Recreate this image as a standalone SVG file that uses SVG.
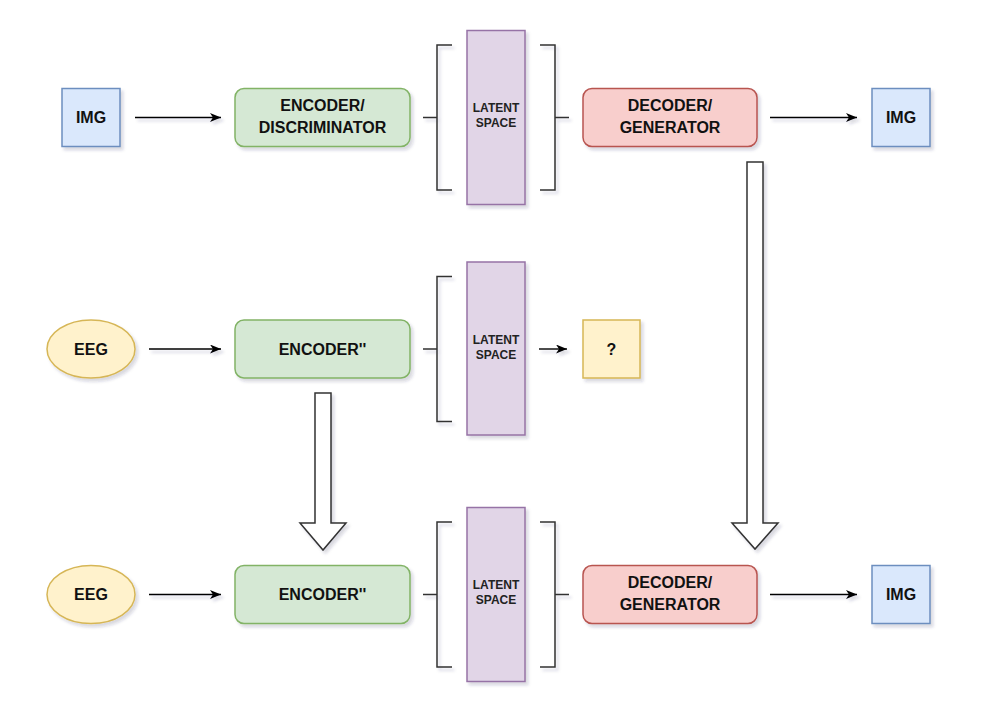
<svg xmlns="http://www.w3.org/2000/svg" width="992" height="701" viewBox="0 0 992 701">
  <defs>
    <filter id="sh" x="-20%" y="-20%" width="150%" height="150%">
      <feDropShadow dx="2.5" dy="3" stdDeviation="1.6" flood-color="#2a2a50" flood-opacity="0.18"/>
    </filter>
    <filter id="shu" filterUnits="userSpaceOnUse" x="0" y="0" width="992" height="701">
      <feDropShadow dx="2.5" dy="3" stdDeviation="1.6" flood-color="#2a2a50" flood-opacity="0.18"/>
    </filter>
    <marker id="ah" markerUnits="userSpaceOnUse" markerWidth="12" markerHeight="10" refX="11" refY="4.5" orient="auto">
      <path d="M0,0 L11,4.5 L0,9 L3,4.5 Z" fill="#000"/>
    </marker>
  </defs>
  <style>
    .lbl { font-family: "Liberation Sans", Arial, Helvetica, sans-serif; font-weight: bold; font-size: 16px; fill: #111; text-anchor: middle; }
    .sm { font-family: "Liberation Sans", Arial, Helvetica, sans-serif; font-weight: bold; font-size: 12px; fill: #222; text-anchor: middle; }
    .blue { fill: #dae8fc; stroke: #6c8ebf; stroke-width: 1.5; filter: url(#sh); }
    .green { fill: #d5e8d4; stroke: #82b366; stroke-width: 1.5; filter: url(#sh); }
    .red { fill: #f8cecc; stroke: #b85450; stroke-width: 1.5; filter: url(#sh); }
    .purple { fill: #e1d5e7; stroke: #9673a6; stroke-width: 1.5; filter: url(#sh); }
    .yellow { fill: #fff2cc; stroke: #d6b656; stroke-width: 1.5; filter: url(#sh); }
    .br { fill: none; stroke: #333; stroke-width: 1.5; filter: url(#shu); }
    .arr { fill: none; stroke: #000; stroke-width: 1.4; marker-end: url(#ah); filter: url(#shu); }
    .big { fill: #fff; stroke: #333; stroke-width: 1.5; filter: url(#sh); }
  </style>
  <rect width="992" height="701" fill="#fff"/>

  <!-- Top row -->
  <g id="img-in-top">
    <rect class="blue" x="62" y="88.5" width="58" height="58"/>
    <text class="lbl" x="91" y="123">IMG</text>
  </g>
  <g id="encoder-disc">
    <rect class="green" x="235" y="88.5" width="175" height="58" rx="9"/>
    <text class="lbl" x="322.5" y="111">ENCODER/</text>
    <text class="lbl" x="322.5" y="132.5">DISCRIMINATOR</text>
  </g>
  <g id="latent-top">
    <rect class="purple" x="467" y="30.5" width="58" height="174"/>
    <text class="sm" x="496" y="112">LATENT</text>
    <text class="sm" x="496" y="127">SPACE</text>
  </g>
  <g id="decoder-top">
    <rect class="red" x="583" y="88.5" width="174" height="58" rx="9"/>
    <text class="lbl" x="670" y="111">DECODER/</text>
    <text class="lbl" x="670" y="132.5">GENERATOR</text>
  </g>
  <g id="img-out-top">
    <rect class="blue" x="872" y="88.5" width="58" height="58"/>
    <text class="lbl" x="901" y="123">IMG</text>
  </g>

  <!-- Middle row -->
  <g id="eeg-mid">
    <ellipse class="yellow" cx="91" cy="349" rx="44" ry="29"/>
    <text class="lbl" x="91" y="354.5">EEG</text>
  </g>
  <g id="encoder-mid">
    <rect class="green" x="235" y="320" width="175" height="58" rx="9"/>
    <text class="lbl" x="322.5" y="354.5">ENCODER''</text>
  </g>
  <g id="latent-mid">
    <rect class="purple" x="467" y="262" width="58" height="173"/>
    <text class="sm" x="496" y="343.5">LATENT</text>
    <text class="sm" x="496" y="358.5">SPACE</text>
  </g>
  <g id="unknown">
    <rect class="yellow" x="583" y="320" width="57" height="58"/>
    <text class="lbl" x="611.5" y="354.5">?</text>
  </g>

  <!-- Bottom row -->
  <g id="eeg-bot">
    <ellipse class="yellow" cx="91" cy="594.5" rx="44" ry="29"/>
    <text class="lbl" x="91" y="600">EEG</text>
  </g>
  <g id="encoder-bot">
    <rect class="green" x="235" y="565.5" width="175" height="58" rx="9"/>
    <text class="lbl" x="322.5" y="600">ENCODER''</text>
  </g>
  <g id="latent-bot">
    <rect class="purple" x="467" y="507.5" width="58" height="174"/>
    <text class="sm" x="496" y="589">LATENT</text>
    <text class="sm" x="496" y="604">SPACE</text>
  </g>
  <g id="decoder-bot">
    <rect class="red" x="583" y="565.5" width="174" height="58" rx="9"/>
    <text class="lbl" x="670" y="588">DECODER/</text>
    <text class="lbl" x="670" y="609.5">GENERATOR</text>
  </g>
  <g id="img-out-bot">
    <rect class="blue" x="872" y="565.5" width="58" height="58"/>
    <text class="lbl" x="901" y="600">IMG</text>
  </g>

  <!-- Connectors -->
  <g id="connectors">
    <!-- top row -->
    <line class="arr" x1="135" y1="117.5" x2="221" y2="117.5"/>
    <path class="br" d="M423,117.5 H437 M452,45 H437 V190 H452"/>
    <path class="br" d="M540,45 H555 V190 H540 M555,117.5 H569"/>
    <line class="arr" x1="770" y1="117.5" x2="857" y2="117.5"/>
    <!-- middle row -->
    <line class="arr" x1="149" y1="349" x2="221" y2="349"/>
    <path class="br" d="M423,349 H437 M452,276.5 H437 V421.5 H452"/>
    <line class="arr" x1="539" y1="349" x2="567" y2="349"/>
    <!-- bottom row -->
    <line class="arr" x1="149" y1="594.5" x2="221" y2="594.5"/>
    <path class="br" d="M423,594.5 H437 M452,522 H437 V667 H452"/>
    <path class="br" d="M540,522 H555 V667 H540 M555,594.5 H569"/>
    <line class="arr" x1="770" y1="594.5" x2="857" y2="594.5"/>
    <!-- big hollow arrows -->
    <polygon class="big" points="747,162 763,162 763,523 778,523 755,549 732,523 747,523"/>
    <polygon class="big" points="315,393 331,393 331,523 346,523 323,550 300,523 315,523"/>
  </g>
</svg>
